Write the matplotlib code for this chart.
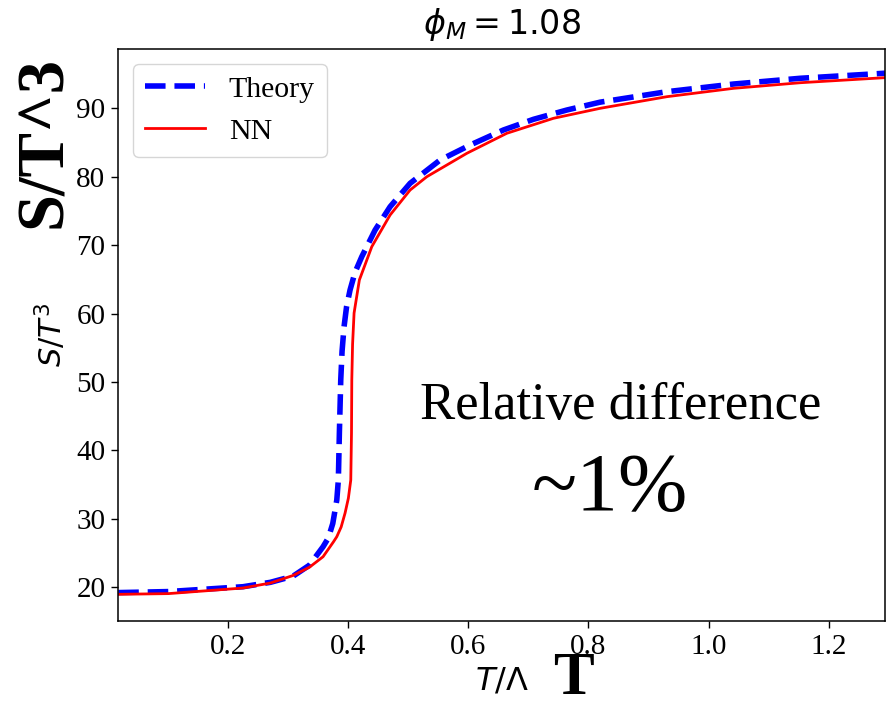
import matplotlib
matplotlib.use("Agg")
import matplotlib.pyplot as plt

# Entropy density S/T^3 versus T/Lambda at phi_M = 1.08
theory_T = [0.0167, 0.10, 0.2245, 0.27, 0.3078, 0.335, 0.3578, 0.3667, 0.374,
            0.3807, 0.3833, 0.385, 0.3873, 0.3895, 0.3928, 0.397, 0.4028, 0.411,
            0.4223, 0.4445, 0.4695, 0.5028, 0.5528, 0.6028, 0.6583, 0.7083,
            0.764, 0.8195, 0.9307, 1.0417, 1.1528, 1.294]
theory_S = [19.2, 19.35, 20.06, 20.7, 21.6, 23.2, 25.9, 27.2, 29.3,
            32.73, 35.66, 42.5, 50.28, 54.5, 58.07, 61.0, 63.44, 66.0,
            68.30, 72.2, 75.61, 79.03, 82.44, 84.63, 86.83, 88.39,
            89.75, 90.9, 92.43, 93.55, 94.39, 95.13]

nn_T = [0.0167, 0.10, 0.2245, 0.27, 0.3078, 0.335, 0.3578, 0.375, 0.3807,
        0.388, 0.3945, 0.40, 0.404, 0.4052, 0.4057, 0.407, 0.4095, 0.4183,
        0.439, 0.4695, 0.5028, 0.5307, 0.5973, 0.664, 0.7417, 0.8195,
        0.9307, 1.0417, 1.1528, 1.294]
nn_S = [18.95, 19.05, 19.87, 20.6, 21.7, 22.9, 24.44, 26.6, 27.37,
        28.8, 30.83, 33.0, 35.66, 42.5, 50.28, 55.5, 60.07, 64.9,
        69.77, 74.4, 78.05, 80.0, 83.42, 86.35, 88.54, 90.0,
        91.7, 92.92, 93.74, 94.48]

x_ticks = [0.2, 0.4, 0.6, 0.8, 1.0, 1.2]
y_ticks = [20, 30, 40, 50, 60, 70, 80, 90]

plt.rcParams["font.family"] = ["Liberation Serif", "DejaVu Sans"]
plt.rcParams["mathtext.fontset"] = "dejavusans"

fig = plt.figure(figsize=(8.92, 7.02), dpi=100)
ax = fig.add_axes([0.1326, 0.1158, 0.9922 - 0.1326, 0.9302 - 0.1158])

ax.plot(theory_T, theory_S, color="blue", linestyle="--", linewidth=4, label="Theory")
ax.plot(nn_T, nn_S, color="red", linestyle="-", linewidth=2, label="NN")

ax.set_xlim(0.0167, 1.294)
ax.set_ylim(15.09, 98.67)
ax.set_xticks(x_ticks)
ax.set_xticklabels([f"{t:.1f}" for t in x_ticks])
ax.set_yticks(y_ticks)
ax.set_yticklabels([str(t) for t in y_ticks])
ax.tick_params(axis="both", labelsize=21, length=4.8, width=1.0, pad=4.5)
for sp in ax.spines.values():
    sp.set_linewidth(1.1)

ax.set_xlabel(r"$T/\Lambda$", fontsize=23, family="DejaVu Sans", labelpad=4)
ax.set_ylabel(r"$S/T^3$", fontsize=22, family="DejaVu Sans", labelpad=6)
ax.set_title(r"$\phi_M = 1.08$", fontsize=24, family="DejaVu Sans", pad=11)

leg = ax.legend(loc="upper left", fontsize=21.5, handlelength=2.0, framealpha=0.8)

# Annotations
fig.text(44 / 892, 1 - 142 / 702, "S/T^3", rotation=90, fontsize=48,
         fontweight="bold", family="Liberation Serif", ha="center", va="center")
fig.text(573 / 892, 1 - 679 / 702, "T", fontsize=44, fontweight="bold",
         family="Liberation Serif", ha="center", va="center")
fig.text(621 / 892, 1 - 406 / 702, "Relative difference", fontsize=38,
         family="Liberation Serif", ha="center", va="center")
fig.text(610 / 892, 1 - 490 / 702, "~1%", fontsize=60, family="Liberation Serif",
         ha="center", va="center")

fig.savefig("out.png", dpi=100)
